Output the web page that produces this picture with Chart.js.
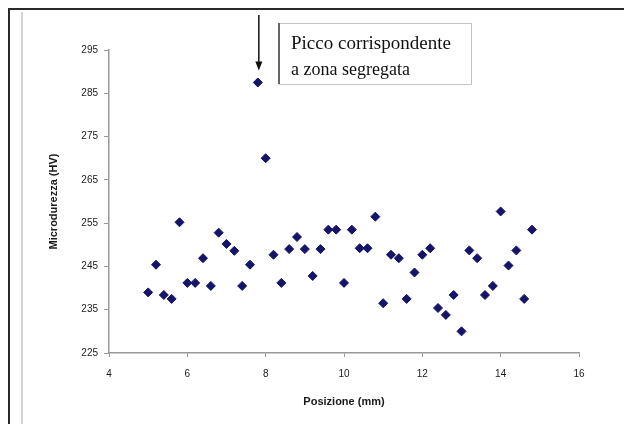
<!DOCTYPE html>
<html>
<head>
<meta charset="utf-8">
<script src="https://cdn.jsdelivr.net/npm/chart.js@4.4.0/dist/chart.umd.min.js"></script>
<style>
  html, body { margin: 0; padding: 0; background: #fff; }
  #chart { display: block; }
</style>
</head>
<body>
<canvas id="chart" width="624" height="424"></canvas>
<script>
// posizione (mm) e microdurezza (HV)
const positions = [5.0, 5.2, 5.4, 5.6, 5.8, 6.0, 6.2, 6.4, 6.6, 6.8,
  7.0, 7.2, 7.4, 7.6, 7.8, 8.0, 8.2, 8.4, 8.6, 8.8,
  9.0, 9.2, 9.4, 9.6, 9.8, 10.0, 10.2, 10.4, 10.6, 10.8,
  11.0, 11.2, 11.4, 11.6, 11.8, 12.0, 12.2, 12.4, 12.6, 12.8,
  13.0, 13.2, 13.4, 13.6, 13.8, 14.0, 14.2, 14.4, 14.6, 14.8];
const hardness = [239.0, 245.4, 238.4, 237.5, 255.2, 241.2, 241.2, 246.9, 240.5, 252.8,
  250.2, 248.6, 240.5, 245.4, 287.5, 270.0, 247.7, 241.2, 249.0, 251.8,
  249.0, 242.8, 249.0, 253.5, 253.5, 241.2, 253.5, 249.2, 249.2, 256.5,
  236.5, 247.7, 246.9, 237.5, 243.6, 247.7, 249.2, 235.4, 233.8, 238.4,
  230.0, 248.7, 246.9, 238.4, 240.5, 257.7, 245.2, 248.7, 237.5, 253.5];

const xTicks = [4, 6, 8, 10, 12, 14, 16];
const yTicks = [225, 235, 245, 255, 265, 275, 285, 295];

const peakIndex = 14;
const noteLines = ["Picco corrispondente", "a zona segregata"];

document.addEventListener("DOMContentLoaded", () => {
  const ctx = document.getElementById("chart").getContext("2d");

  // cornice esterna + nota con freccia
  const decorPlugin = {
    id: "decor",
    beforeDraw(chart) {
      const c = chart.ctx;
      c.save();
      c.fillStyle = "#fff";
      c.fillRect(0, 0, chart.width, chart.height);
      c.strokeStyle = "#d4d4d4";
      c.lineWidth = 2;
      c.beginPath();
      c.moveTo(22, 12);
      c.lineTo(22, 424);
      c.stroke();
      c.strokeStyle = "#2a2a2a";
      c.lineWidth = 2;
      c.beginPath();
      c.moveTo(9, 424);
      c.lineTo(9, 9);
      c.lineTo(624, 9);
      c.stroke();
      c.restore();
    },
    afterDraw(chart) {
      const c = chart.ctx;
      const xs = chart.scales.x;
      const ys = chart.scales.y;
      const px = xs.getPixelForValue(positions[peakIndex]) + 1;
      const py = ys.getPixelForValue(hardness[peakIndex]);
      c.save();
      // freccia
      c.strokeStyle = "#111";
      c.fillStyle = "#111";
      c.lineWidth = 1.5;
      c.beginPath();
      c.moveTo(px, 15);
      c.lineTo(px, py - 20);
      c.stroke();
      c.beginPath();
      c.moveTo(px - 3.5, py - 21);
      c.lineTo(px + 3.5, py - 21);
      c.lineTo(px, py - 12);
      c.closePath();
      c.fill();
      // riquadro
      const bx = 279, by = 23, bw = 192, bh = 61;
      c.strokeStyle = "#c4c4c4";
      c.lineWidth = 1;
      c.strokeRect(bx + 0.5, by + 0.5, bw, bh);
      c.strokeStyle = "#666";
      c.lineWidth = 2;
      c.beginPath();
      c.moveTo(bx, by);
      c.lineTo(bx, by + bh);
      c.stroke();
      c.fillStyle = "#111";
      c.textBaseline = "middle";
      c.font = "19px 'Liberation Serif', serif";
      c.fillText(noteLines[0], 291, 44);
      c.font = "18px 'Liberation Serif', serif";
      c.fillText(noteLines[1], 291, 70);
      c.restore();
    }
  };

  new Chart(ctx, {
    type: "scatter",
    data: {
      datasets: [{
        label: "Microdurezza",
        data: positions.map((x, i) => ({ x: x, y: hardness[i] })),
        backgroundColor: "#14146a",
        borderColor: "#14146a",
        pointStyle: "rectRot",
        pointRadius: 4.5,
        pointHoverRadius: 4.5
      }]
    },
    options: {
      responsive: false,
      animation: false,
      events: [],
      layout: { padding: { left: 47, right: 45, top: 50, bottom: 15 } },
      plugins: {
        legend: { display: false },
        tooltip: { enabled: false }
      },
      scales: {
        x: {
          type: "linear",
          min: xTicks[0],
          max: xTicks[xTicks.length - 1],
          afterBuildTicks: (s) => { s.ticks = xTicks.map(v => ({ value: v })); },
          afterFit: (s) => { s.height = 56; },
          grid: { drawOnChartArea: false, drawTicks: true, tickLength: 4, color: "#999" },
          border: { color: "#999", width: 1.5 },
          ticks: { color: "#1a1a1a", padding: 11, font: { family: "'Liberation Sans', Arial", size: 10 } },
          title: {
            display: true,
            text: "Posizione (mm)",
            color: "#1a1a1a",
            padding: 0,
            font: { family: "'Liberation Sans', Arial", size: 11, weight: "bold" }
          }
        },
        y: {
          type: "linear",
          min: yTicks[0],
          max: yTicks[yTicks.length - 1],
          afterBuildTicks: (s) => { s.ticks = yTicks.map(v => ({ value: v })); },
          afterFit: (s) => { s.width = 62; },
          grid: { drawOnChartArea: false, drawTicks: true, tickLength: 5, color: "#999" },
          border: { color: "#999", width: 1.5 },
          ticks: { color: "#1a1a1a", padding: 6, font: { family: "'Liberation Sans', Arial", size: 10 } },
          title: {
            display: true,
            text: "Microdurezza (HV)",
            color: "#1a1a1a",
            padding: 0,
            font: { family: "'Liberation Sans', Arial", size: 11, weight: "bold" }
          }
        }
      }
    },
    plugins: [decorPlugin]
  });
});
</script>
</body>
</html>
